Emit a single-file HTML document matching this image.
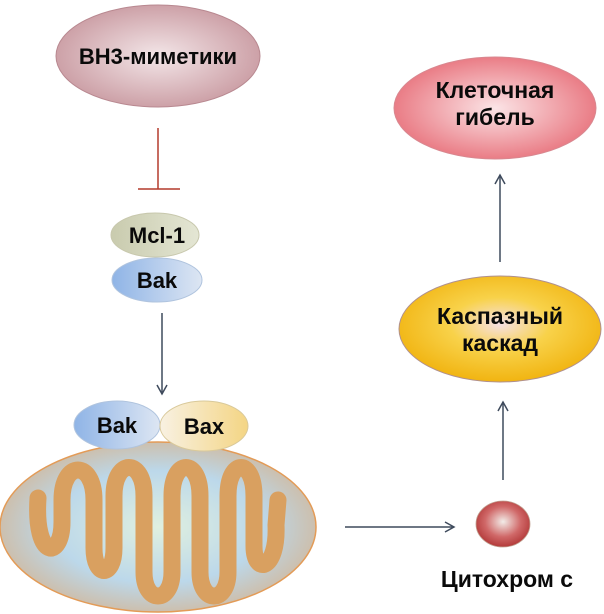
<!DOCTYPE html>
<html><head><meta charset="utf-8"><style>
html,body{margin:0;padding:0;background:#fff;}
svg{display:block;}
text{font-family:"Liberation Sans",sans-serif;font-weight:bold;fill:#0a0a0a;text-anchor:middle;}
</style></head><body>
<svg width="604" height="614" viewBox="0 0 604 614" xmlns="http://www.w3.org/2000/svg">
<defs>
<radialGradient id="gBH" cx="50%" cy="50%" r="55%"><stop offset="0" stop-color="#f3e6e8"/><stop offset="1" stop-color="#c99aa1"/></radialGradient>
<radialGradient id="gDeath" cx="50%" cy="50%" r="55%"><stop offset="0" stop-color="#fbe4e6"/><stop offset="1" stop-color="#e8727c"/></radialGradient>
<radialGradient id="gCasp" cx="50%" cy="45%" r="55%"><stop offset="0" stop-color="#f6e0e6"/><stop offset="0.45" stop-color="#f8d24a"/><stop offset="1" stop-color="#f1b411"/></radialGradient>
<linearGradient id="gMcl" x1="0" x2="1"><stop offset="0" stop-color="#c9cbae"/><stop offset="1" stop-color="#e4e6d4"/></linearGradient>
<linearGradient id="gBak" x1="0" x2="1"><stop offset="0" stop-color="#8fb4e6"/><stop offset="1" stop-color="#dde6f3"/></linearGradient>
<linearGradient id="gBax" x1="0" x2="1"><stop offset="0" stop-color="#f8f1e2"/><stop offset="1" stop-color="#f4d584"/></linearGradient>
<radialGradient id="gMito" cx="50%" cy="50%" r="55%"><stop offset="0" stop-color="#e0f0df"/><stop offset="0.6" stop-color="#bcd8ea"/><stop offset="1" stop-color="#d1b89c"/></radialGradient>
<radialGradient id="gCyt" cx="50%" cy="45%" r="55%"><stop offset="0" stop-color="#f2ece8"/><stop offset="0.6" stop-color="#d06868"/><stop offset="1" stop-color="#b33a3a"/></radialGradient>
<marker id="ar" markerWidth="12" markerHeight="12" refX="10" refY="6" orient="auto" markerUnits="userSpaceOnUse"><path d="M1,1 L10,6 L1,11" fill="none" stroke="#3e4a5c" stroke-width="1.5"/></marker>
</defs>

<ellipse cx="158" cy="56" rx="102" ry="51" fill="url(#gBH)" stroke="#b88890" stroke-width="1"/>
<text x="158" y="64" font-size="22">BH3-миметики</text>

<line x1="158" y1="128" x2="158" y2="189" stroke="#b43a2c" stroke-width="1.5"/>
<line x1="138" y1="189" x2="180" y2="189" stroke="#b43a2c" stroke-width="1.5"/>

<ellipse cx="155" cy="235" rx="44" ry="22" fill="url(#gMcl)" stroke="#c8c8ad"/>
<text x="157" y="243" font-size="22">Mcl-1</text>
<ellipse cx="157" cy="280" rx="45" ry="22" fill="url(#gBak)" stroke="#b0c4de"/>
<text x="157" y="288" font-size="22">Bak</text>

<line x1="162" y1="313" x2="162" y2="394" stroke="#3e4a5c" stroke-width="1.5" marker-end="url(#ar)"/>

<ellipse cx="158" cy="527" rx="158" ry="85" fill="url(#gMito)" stroke="#e39b57" stroke-width="1.5"/>
<path d="M38,498 C34,560 62,560 62,522 L62,500 C62,460 94,460 94,500 L94,548 C94,578 114,578 114,548 L114,496 C114,458 144,458 144,496 L144,572 C144,604 172,604 172,572 L172,496 C172,458 200,458 200,496 L200,572 C200,604 228,604 228,572 L228,496 C228,458 254,458 254,496 L254,546 C254,576 278,570 276,525 L278,500" fill="none" stroke="#d9a060" stroke-width="17" stroke-linecap="round" stroke-linejoin="round"/>

<ellipse cx="117" cy="425" rx="43" ry="24" fill="url(#gBak)" stroke="#b0c4de"/>
<text x="117" y="433" font-size="22">Bak</text>
<ellipse cx="204" cy="426" rx="44" ry="25" fill="url(#gBax)" stroke="#d9c99a"/>
<text x="204" y="434" font-size="22">Bax</text>

<line x1="345" y1="527" x2="454" y2="527" stroke="#3e4a5c" stroke-width="1.5" marker-end="url(#ar)"/>

<ellipse cx="503" cy="524" rx="27" ry="23" fill="url(#gCyt)" stroke="#c0a090" stroke-width="0.8"/>
<text x="507" y="587" font-size="23">Цитохром с</text>

<line x1="503" y1="480" x2="503" y2="402" stroke="#3e4a5c" stroke-width="1.5" marker-end="url(#ar)"/>

<ellipse cx="500" cy="329" rx="101" ry="53" fill="url(#gCasp)" stroke="#b0908f" stroke-width="1"/>
<text x="500" y="324" font-size="23">Каспазный</text>
<text x="500" y="351" font-size="23">каскад</text>

<line x1="500" y1="262" x2="500" y2="175" stroke="#3e4a5c" stroke-width="1.5" marker-end="url(#ar)"/>

<ellipse cx="495" cy="108" rx="101" ry="51" fill="url(#gDeath)" stroke="#d88890" stroke-width="1"/>
<text x="495" y="98" font-size="23">Клеточная</text>
<text x="495" y="125" font-size="23">гибель</text>
</svg>
</body></html>
